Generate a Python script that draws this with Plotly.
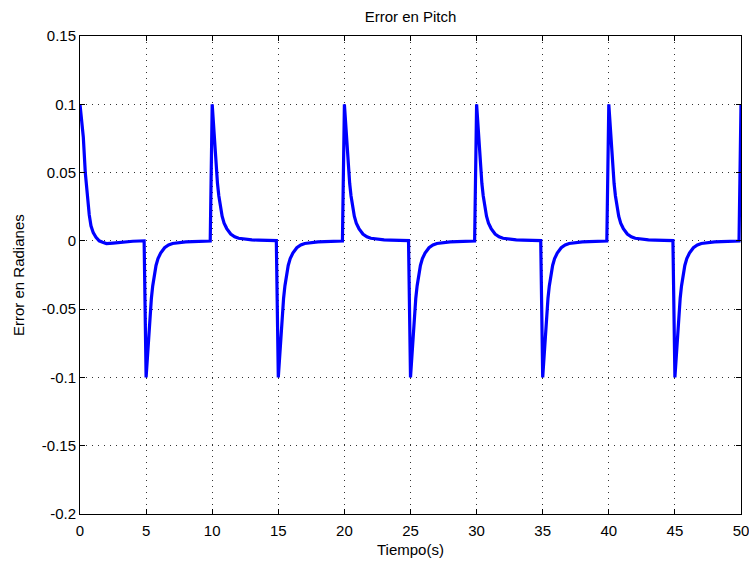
import plotly.graph_objects as go

# Step instants of the pitch reference and the sign of each step (+0.1 / -0.1 rad)
step_times = [0, 5, 10, 15, 20, 25, 30, 35, 40, 45]
step_peaks = [0.1, -0.1, 0.1, -0.1, 0.1, -0.1, 0.1, -0.1, 0.1, -0.1]
end_time = 50
end_peak = 0.1

# Error after the very first step (slower, with a small undershoot), in rad
first_offsets = [0.0, 0.1, 0.25, 0.4, 0.5, 0.58, 0.7, 0.83, 1.0, 1.21, 1.45,
                 1.71, 2.0, 2.5, 3.0, 3.5, 4.0, 4.5, 4.85]
first_error = [0.1, 0.091, 0.076, 0.05, 0.038, 0.028, 0.019, 0.011, 0.006,
               0.0026, 0.0, -0.001, -0.002, -0.0016, -0.001, -0.0006,
               -0.0003, -0.0001, 0.0]

# Normalised error decay after each following step (fraction of the peak)
decay_offsets = [0.0, 0.1, 0.2, 0.3, 0.4, 0.5, 0.6, 0.75, 0.9, 1.1, 1.4,
                 1.7, 2.0, 2.5, 3.0, 3.5, 4.0, 4.5, 4.85]
decay_fraction = [1.0, 0.84, 0.68, 0.53, 0.42, 0.33, 0.26, 0.18, 0.13, 0.09,
                  0.05, 0.03, 0.019, 0.011, 0.007, 0.005, 0.003, 0.002,
                  0.0015]

x_ticks = [0, 5, 10, 15, 20, 25, 30, 35, 40, 45, 50]
x_tick_text = ["0", "5", "10", "15", "20", "25", "30", "35", "40", "45", "50"]
y_ticks = [0.15, 0.1, 0.05, 0, -0.05, -0.1, -0.15, -0.2]
y_tick_text = ["0.15", "0.1", "0.05", "0", "-0.05", "-0.1", "-0.15", "-0.2"]

# Assemble the time series segment by segment
t, e = [], []
for k, (t0, peak) in enumerate(zip(step_times, step_peaks)):
    if k == 0:
        t += [t0 + d for d in first_offsets]
        e += first_error
    else:
        t += [t0 + d for d in decay_offsets]
        e += [peak * f for f in decay_fraction]
t.append(end_time)
e.append(end_peak)

fig = go.Figure()
fig.add_trace(go.Scatter(x=t, y=e, mode="lines",
                         line=dict(color="#0000ff", width=3.2),
                         showlegend=False, hoverinfo="skip"))

font = "Liberation Sans, Arial, Helvetica, sans-serif"
fsize = 15
axis_common = dict(
    showline=True, linecolor="black", linewidth=1, mirror="allticks",
    ticks="inside", ticklen=5, tickcolor="black", tickwidth=1,
    showgrid=True, gridcolor="#333333", gridwidth=1, griddash="1px,5px",
    zeroline=False, automargin=False, ticklabeloverflow="allow",
    tickfont=dict(family=font, size=fsize, color="black"),
)

W, H = 749, 562
L, R, T, B = 80, 8, 36, 48
plot_w, plot_h = W - L - R, H - T - B

fig.update_layout(
    width=W, height=H,
    margin=dict(l=L, r=R, t=T, b=B),
    paper_bgcolor="white", plot_bgcolor="white",
    title=dict(text="Error en Pitch", x=0.5, xref="paper", xanchor="center",
               y=1 - 17 / H, yanchor="middle", yref="container",
               font=dict(family=font, size=fsize, color="black")),
    xaxis=dict(range=[0, 50], tickvals=x_ticks, ticktext=x_tick_text,
               ticklabelstandoff=3, **axis_common),
    yaxis=dict(range=[-0.2, 0.15], tickvals=y_ticks, ticktext=y_tick_text,
               **axis_common),
    annotations=[
        dict(text="Tiempo(s)", xref="paper", yref="paper",
             x=0.5, y=-(549 - (H - B)) / plot_h,
             xanchor="center", yanchor="middle", showarrow=False,
             font=dict(family=font, size=fsize, color="black")),
        dict(text="Error en Radianes", xref="paper", yref="paper",
             x=-(L - 18) / plot_w, y=0.5, textangle=-90,
             xanchor="center", yanchor="middle", showarrow=False,
             font=dict(family=font, size=fsize, color="black")),
    ],
)

fig.write_html("out.html")
